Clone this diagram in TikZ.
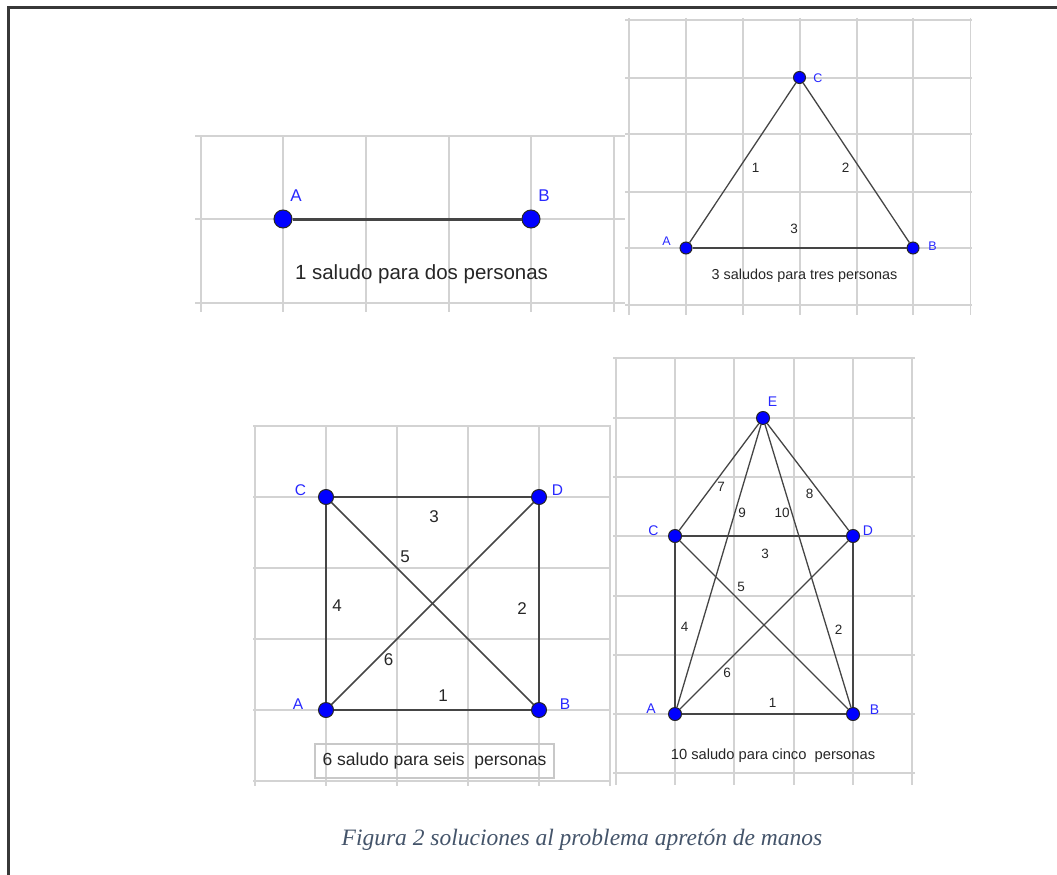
\documentclass[tikz,border=0pt]{standalone}
\usepackage{fontspec}
\setmainfont{Liberation Sans}
\newfontfamily\capfont{Liberation Serif}
\definecolor{gridc}{HTML}{D3D3D3}
\definecolor{edgec}{HTML}{454545}
\definecolor{ptblue}{HTML}{0000FF}
\definecolor{lblblue}{RGB}{40,40,255}
\definecolor{capc}{HTML}{44546A}
\definecolor{framec}{HTML}{383838}
\definecolor{boxc}{HTML}{C8C8C8}
\tikzset{
  gridline/.style={gridc, line width=1.4pt},
  vertex/.style={circle, fill=ptblue, draw=black!85, line width=1pt, inner sep=0pt, minimum size=#1},
  vertex/.default=12pt,
  lbl/.style={text=lblblue, inner sep=0pt, font=\fontsize{#1}{#1}\selectfont},
  num/.style={text=black!85, inner sep=0pt, font=\fontsize{#1}{#1}\selectfont},
  side/.style={edgec, line width=#1},
}
\begin{document}
\begin{tikzpicture}[x=1pt,y=-1pt]
\useasboundingbox (0,0) rectangle (1057,875);
% outer frame (top and left)
\draw[framec, line width=2.2pt] (8.5,875) -- (8.5,7.5) -- (1057,7.5);

% ---------- Panel 1 ----------
\foreach \y in {136,219,303} \draw[gridline] (195,\y) -- (625,\y);
\foreach \x in {201,283,366,449,531,614} \draw[gridline] (\x,136) -- (\x,312);
\node[vertex=18pt] (aA) at (283,219) {};
\node[vertex=18pt] (aB) at (531,219) {};
\draw[side=3pt] (aA) -- (aB);
\node[lbl=17] (aLA) at (296,196) {A};
\node[lbl=17] (aLB) at (544,196) {B};
\node[num=20.5] (aT) at (421.5,274) {1 saludo para dos personas};

% ---------- Panel 2 ----------
\foreach \y in {20,78,134,192,248,305} \draw[gridline] (625,\y) -- (972,\y);
\foreach \x in {629,686,743,800,857,913,970.5} \draw[gridline] (\x,18) -- (\x,315);
\node[vertex=12pt] (bA) at (686,248) {};
\node[vertex=12pt] (bB) at (913,248) {};
\node[vertex=12pt] (bC) at (799.5,77.5) {};
\draw[side=1.3pt] (bA) -- (bC);
\draw[side=1.3pt] (bC) -- (bB);
\draw[side=2pt] (bA) -- (bB);
\node[lbl=12.5] (bLC) at (818,78.5) {C};
\node[lbl=12.5] (bLA) at (666.5,241) {A};
\node[lbl=12.5] (bLB) at (932.5,246) {B};
\node[num=13.5] (bN1) at (755.5,168) {1};
\node[num=13.5] (bN2) at (845.5,168) {2};
\node[num=13.5] (bN3) at (794,229) {3};
\node[num=14.4] (bT) at (804.5,275.5) {3 saludos para tres personas};

% ---------- Panel 3 ----------
\foreach \y in {426,497,568,639,710,781} \draw[gridline] (253,\y) -- (611,\y);
\foreach \x in {255,326,397,468,539,610} \draw[gridline] (\x,426) -- (\x,786);
\node[vertex=15pt] (cC) at (326,497) {};
\node[vertex=15pt] (cD) at (539,497) {};
\node[vertex=15pt] (cA) at (326,710) {};
\node[vertex=15pt] (cB) at (539,710) {};
\draw[side=2.5pt] (cA) -- (cB);
\draw[side=2.5pt] (cB) -- (cD);
\draw[side=2.5pt] (cD) -- (cC);
\draw[side=2.5pt] (cC) -- (cA);
\draw[side=1.5pt] (cC) -- (cB);
\draw[side=1.5pt] (cA) -- (cD);
\node[lbl=15.5] (cLC) at (300.5,490) {C};
\node[lbl=15.5] (cLD) at (557.5,490) {D};
\node[lbl=15.5] (cLA) at (298,704) {A};
\node[lbl=15.5] (cLB) at (565,704.5) {B};
\node[num=17] (cN3) at (434,517) {3};
\node[num=17] (cN5) at (405,557) {5};
\node[num=17] (cN4) at (337,606) {4};
\node[num=17] (cN2) at (522,608.5) {2};
\node[num=17] (cN6) at (388.5,660) {6};
\node[num=17] (cN1) at (443,696) {1};
\node[num=17.5, draw=boxc, line width=1.2pt, minimum width=239pt, minimum height=34pt] (cT) at (434.5,761) {6 saludo para seis\ \ personas};

% ---------- Panel 4 ----------
\foreach \y in {358,418,477,536,596,655,714,773} \draw[gridline] (613,\y) -- (915,\y);
\foreach \x in {616,675,734,794,853,912} \draw[gridline] (\x,357) -- (\x,785);
\node[vertex=13pt] (dE) at (763,418) {};
\node[vertex=13pt] (dC) at (675,536) {};
\node[vertex=13pt] (dD) at (853,536) {};
\node[vertex=13pt] (dA) at (675,714) {};
\node[vertex=13pt] (dB) at (853,714) {};
\draw[side=2.2pt] (dA) -- (dB);
\draw[side=2.2pt] (dB) -- (dD);
\draw[side=2.2pt] (dD) -- (dC);
\draw[side=2.2pt] (dC) -- (dA);
\draw[side=1.3pt] (dC) -- (dB);
\draw[side=1.3pt] (dA) -- (dD);
\draw[side=1.3pt] (dE) -- (dC);
\draw[side=1.3pt] (dE) -- (dD);
\draw[side=1.3pt] (dE) -- (dA);
\draw[side=1.3pt] (dE) -- (dB);
\node[lbl=14] (dLE) at (772.5,402) {E};
\node[lbl=14] (dLC) at (653.5,531) {C};
\node[lbl=14] (dLD) at (868,531) {D};
\node[lbl=14] (dLA) at (651,709) {A};
\node[lbl=14] (dLB) at (874.5,710) {B};
\node[num=13.5] (dN7) at (721,487) {7};
\node[num=13.5] (dN9) at (742,512.5) {9};
\node[num=13.5] (dN10) at (782,512.5) {10};
\node[num=13.5] (dN8) at (809.5,494) {8};
\node[num=13.5] (dN3) at (765,553.5) {3};
\node[num=13.5] (dN5) at (741,587) {5};
\node[num=13.5] (dN4) at (684.5,627) {4};
\node[num=13.5] (dN2) at (838.5,629.5) {2};
\node[num=13.5] (dN6) at (727,673) {6};
\node[num=13.5] (dN1) at (772.5,702.5) {1};
\node[num=14.7] (dT) at (773,756) {10 saludo para cinco\ \ personas};

% ---------- Caption ----------
\node[anchor=base, inner sep=0pt, text=capc, font=\capfont\itshape\fontsize{23.5}{23.5}\selectfont] (cap) at (582,845) {Figura 2 soluciones al problema apretón de manos};
\end{tikzpicture}
\end{document}
